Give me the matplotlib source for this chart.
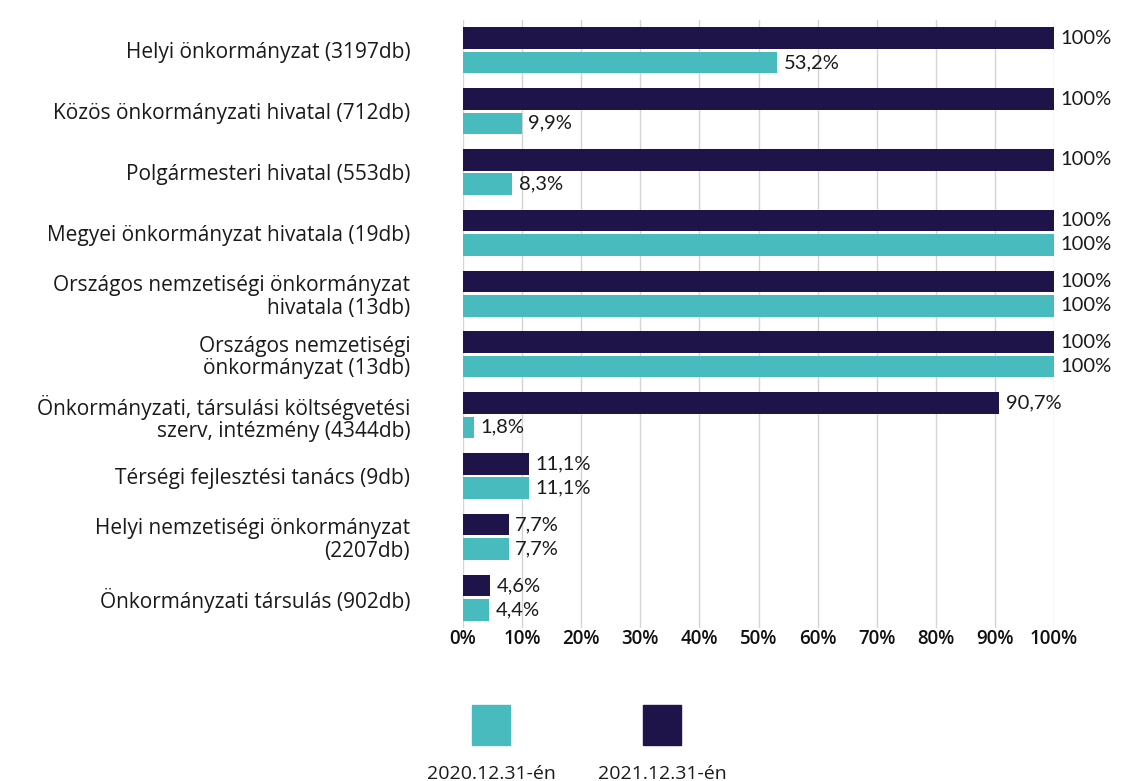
import numpy as np
import matplotlib.pyplot as plt
from matplotlib.patches import Rectangle

# data
categories = [
    'Helyi önkormányzat (3197db)',
    'Közös önkormányzati hivatal (712db)',
    'Polgármesteri hivatal (553db)',
    'Megyei önkormányzat hivatala (19db)',
    'Országos nemzetiségi önkormányzat\nhivatala (13db)',
    'Országos nemzetiségi\nönkormányzat (13db)',
    'Önkormányzati, társulási költségvetési\nszerv, intézmény (4344db)',
    'Térségi fejlesztési tanács (9db)',
    'Helyi nemzetiségi önkormányzat\n(2207db)',
    'Önkormányzati társulás (902db)',
]
values_2020 = [53.2, 9.9, 8.3, 100, 100, 100, 1.8, 11.1, 7.7, 4.4]
values_2021 = [100, 100, 100, 100, 100, 100, 90.7, 11.1, 7.7, 4.6]
series_names = ['2020.12.31-én', '2021.12.31-én']
xticks = [0, 10, 20, 30, 40, 50, 60, 70, 80, 90, 100]

teal = '#48BBBE'
navy = '#1F1449'

plt.rcParams['font.family'] = ['Open Sans', 'DejaVu Sans']

W, H = 1141, 781
fig = plt.figure(figsize=(W / 100, H / 100), dpi=100)
# axes box in pixels: x 463..1054, y 20..628
ax = fig.add_axes([463 / W, 1 - 628 / H, 591 / W, 608 / H])

y = np.arange(len(categories))
h = 0.355
off = 0.2


def fmt(v):
    if v == 100:
        return '100%'
    return ('%.1f' % v).replace('.', ',') + '%'


val_font = dict(fontsize=14.5, color='#1a1a1a', family=['Lato', 'DejaVu Sans'])
for yi, v in zip(y, values_2021):
    ax.text(v + 1.1, yi - off, fmt(v), va='center', ha='left', **val_font)
for yi, v in zip(y, values_2020):
    ax.text(v + 1.1, yi + off, fmt(v), va='center', ha='left', **val_font)

ax.barh(y - off, values_2021, height=h, color=navy, zorder=3)
ax.barh(y + off, values_2020, height=h, color=teal, zorder=3)

ax.set_xlim(0, 100)
ax.set_ylim(len(categories) - 0.5, -0.5)
ax.set_xticks(xticks)
ax.set_xticklabels(['%d%%' % t for t in xticks], fontsize=13.5,
                   fontweight='semibold', color='#111111')
ax.set_yticks(y)
ax.set_yticklabels(categories, fontsize=15, color='#1a1a1a',
                   linespacing=1.1)
ax.tick_params(axis='both', length=0)
ax.tick_params(axis='y', pad=38)
ax.tick_params(axis='x', pad=1)
for s in ax.spines.values():
    s.set_visible(False)
ax.xaxis.grid(True, color='#d4d4d4', linewidth=1, zorder=0)
ax.set_axisbelow(True)

# legend: squares with labels underneath
for xc, col, name in [(491, teal, series_names[0]), (662, navy, series_names[1])]:
    fig.patches.append(Rectangle(((xc - 19) / W, 1 - 745 / H), 38 / W, 40 / H,
                                 transform=fig.transFigure, color=col))
    fig.text(xc / W, 1 - 774 / H, name, ha='center', va='center',
             fontsize=14, color='#1a1a1a')

fig.savefig('out.png', dpi=100)
